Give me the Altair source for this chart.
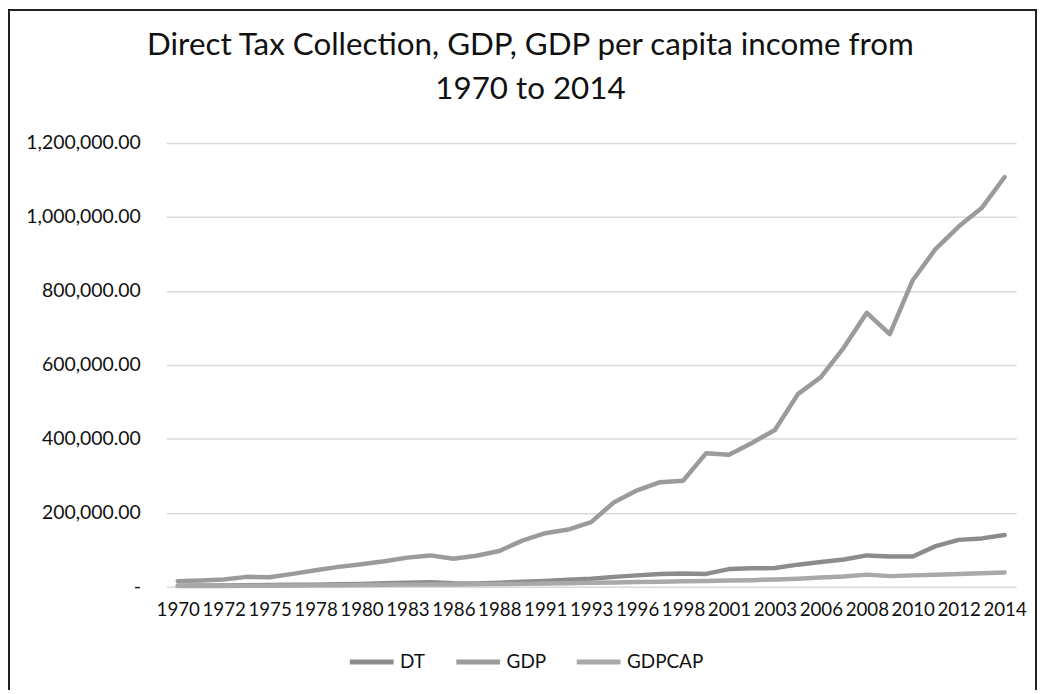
import altair as alt
import pandas as pd

years = ["1970", "1971", "1972", "1974", "1975", "1977", "1978", "1979", "1980", "1982",
         "1983", "1985", "1986", "1987", "1988", "1990", "1991", "1992", "1993", "1995",
         "1996", "1997", "1998", "2000", "2001", "2002", "2003", "2005", "2006", "2007",
         "2008", "2009", "2010", "2011", "2012", "2013", "2014"]
tick_labels = ["1970", "1972", "1975", "1978", "1980", "1983", "1986", "1988", "1991", "1993",
               "1996", "1998", "2001", "2003", "2006", "2008", "2010", "2012", "2014"]

dt = [3000, 3500, 4000, 4500, 5000, 5500, 6000, 7000, 8000, 9500,
      11000, 12500, 10000, 9000, 11000, 14000, 16000, 19000, 22000, 27000,
      31000, 35000, 36000, 35000, 48000, 50000, 51000, 60000, 67000, 74000,
      85000, 82000, 82000, 110000, 127000, 131000, 140000]
gdp = [15000, 17000, 20000, 27000, 26000, 35000, 45000, 54000, 61000, 69000,
       79000, 85000, 76000, 84000, 97000, 125000, 145000, 155000, 175000, 229000,
       261000, 283000, 287000, 361000, 357000, 389000, 424000, 521000, 567000, 647000,
       741000, 683000, 829000, 914000, 974000, 1024000, 1108000]
gdpcap = [2000, 2000, 2500, 3000, 3000, 3500, 4000, 4500, 5000, 5500,
          6000, 6500, 6500, 7000, 7500, 8000, 9000, 10000, 11000, 12000,
          13000, 14000, 15000, 16000, 17000, 18000, 20000, 22000, 25000, 28000,
          33000, 29000, 31000, 33000, 35000, 37000, 39000]

series_names = ["DT", "GDP", "GDPCAP"]
series_colors = ["#8c8c8c", "#9b9b9b", "#a9a9a9"]

rows = []
for name, vals in zip(series_names, [dt, gdp, gdpcap]):
    for y, v in zip(years, vals):
        rows.append({"year": y, "value": v, "series": name})
df = pd.DataFrame(rows)

FONT = "Lato"

lines = alt.Chart(df).mark_line(strokeWidth=4.5, strokeCap="round", strokeJoin="round").encode(
    x=alt.X("year:O", sort=years, title=None,
            scale=alt.Scale(type="point", padding=0.5),
            axis=alt.Axis(values=tick_labels, labelAngle=0, ticks=False, tickSize=0,
                          domain=False, grid=False, labelFontSize=18.8, labelPadding=14,
                          labelOverlap=False, labelBound=False, labelColor="#111111",
                          labelFont=FONT)),
    y=alt.Y("value:Q", title=None,
            scale=alt.Scale(domain=[0, 1200000]),
            axis=alt.Axis(values=[0, 200000, 400000, 600000, 800000, 1000000, 1200000],
                          labelExpr="datum.value == 0 ? '-\u00a0\u00a0\u00a0' : format(datum.value, ',.2f')",
                          ticks=False, tickSize=0, domain=False, grid=True,
                          gridColor="#d9d9d9", gridWidth=1.5,
                          labelFontSize=19.5, labelPadding=26, labelColor="#111111",
                          labelFont=FONT)),
    color=alt.Color("series:N", sort=series_names,
                    scale=alt.Scale(domain=series_names, range=series_colors),
                    legend=alt.Legend(title=None, orient="none", direction="horizontal",
                                      legendX=182, legendY=497, symbolType="stroke",
                                      symbolSize=1936, symbolStrokeWidth=5,
                                      labelFontSize=19, labelFont=FONT, labelColor="#111111",
                                      columnPadding=20, labelOffset=4, padding=0,
                                      gridAlign="none")),
)

frame_left = alt.Chart(df).mark_rule(color="#222222", strokeWidth=1.5).encode(
    x=alt.value(-158), y=alt.value(-134), y2=alt.value(560))
frame_top = alt.Chart(df).mark_rule(color="#222222", strokeWidth=1.5).encode(
    x=alt.value(-158), x2=alt.value(874), y=alt.value(-134))
frame_right = alt.Chart(df).mark_rule(color="#222222", strokeWidth=1.5).encode(
    x=alt.value(874), y=alt.value(-134), y2=alt.value(560))

chart = alt.layer(lines, frame_left, frame_top, frame_right).properties(
    width=854, height=446,
    autosize=alt.AutoSizeParams(type="none"),
    padding={"left": 159, "top": 134, "right": 21, "bottom": 102},
    title=alt.TitleParams(
        ["Direct Tax Collection, GDP, GDP per capita income from", "1970 to 2014"],
        font=FONT, fontSize=31.5, fontWeight="normal", color="#111111",
        lineHeight=44, anchor="middle", dx=-61, offset=-129, baseline="bottom"),
).configure_view(stroke=None)

chart.save("out.html", embed_options={"renderer": "svg", "actions": False})
